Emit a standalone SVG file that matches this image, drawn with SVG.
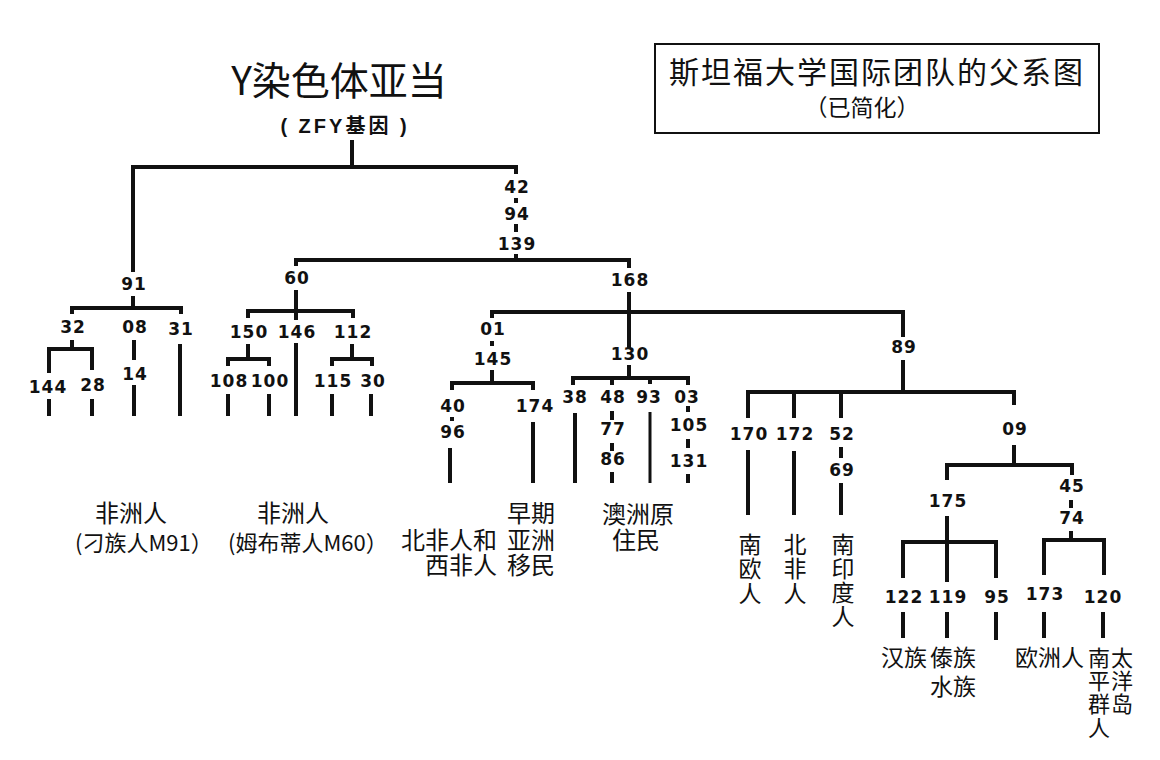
<svg xmlns="http://www.w3.org/2000/svg" width="1160" height="760" viewBox="0 0 1160 760">
<style>
.n{font-family:"DejaVu Sans",Verdana,sans-serif;font-weight:bold;font-size:17px;letter-spacing:1px;text-anchor:middle;fill:#111}
.c{font-family:"Noto Sans CJK SC","Noto Sans",sans-serif;font-size:24px;fill:#111}
.v{font-size:23px}
.s{font-size:22px}
.m{text-anchor:middle}
.e{text-anchor:end}
.ln{stroke:#111;stroke-width:4;fill:none;stroke-linecap:butt}
.thin{stroke-width:3}
</style>
<rect width="1160" height="760" fill="#ffffff"/>

<g id="title">
<text x="339" y="95" class="c m" style="font-size:39px">Y染色体亚当</text>
<text x="345" y="133" style="font-family:'Liberation Sans','Noto Sans CJK SC',sans-serif;font-weight:bold;font-size:20px;letter-spacing:3px;text-anchor:middle;fill:#111">( ZFY基因 )</text>
</g>

<g id="legend">
<rect x="655" y="44" width="444" height="89" fill="none" stroke="#111" stroke-width="2"/>
<text class="c m"><tspan x="877" y="83" style="font-size:30px;letter-spacing:2px">斯坦福大学国际团队的父系图</tspan><tspan x="862" y="116" style="font-size:23px">（已简化）</tspan></text>
</g>

<g id="connectors" class="ln">
<path class="ln" d="M352,140V167 M131,167H518 M133,167V272 M516,167V174 M516,198V203 M516,224V232 M516,254V260 M294,260H631 M296,260V266 M629,260V268"/>
<path class="ln" d="M133,296V308 M70,308H183 M72,308V314 M181,308V314 M72,340V349 M47,349H94 M49,349V373 M92,349V370 M49,399V416 M92,399V416 M134,340V360 M134,385V416 M180,344V416"/>
<path class="ln" d="M296,290V320 M246,311H355 M248,311V318 M353,311V318 M296,343V416 M248,344V359 M226,359H271 M228,359V366 M269,359V366 M228,394V416 M269,394V416 M352,344V359 M330,359H374 M332,359V366 M372,359V366 M332,394V416 M371,394V416"/>
<path class="ln" d="M629,292V349 M490,312H905 M492,312V318 M492,341V346 M492,370V383 M450,383H535 M452,383V390 M533,383V390 M452,417V421 M450,448V483 M533,422V483"/>
<path class="ln" d="M629,365V378 M571,378H690 M573,378V385 M612,378V385 M650,378V384 M688,378V385 M575,413V483 M612,411V420 M612,443V451 M612,472V483 M688,406V412 M688,439V448 M688,474V483"/>
<path class="ln thin" d="M650,412V483"/>
<path class="ln" d="M903,312V337 M903,360V392 M746,392H1016 M748,392V418 M794,392V418 M841,392V418 M1014,392V405 M748,450V515 M794,451V515 M841,447V458 M841,483V515"/>
<path class="ln" d="M1014,445V465 M945,465H1074 M947,465V480 M1072,465V475 M1071,500V508 M1071,531V540 M1042,540H1106 M1044,540V575 M1104,540V575 M947,516V582 M901,542H998 M903,542V578 M996,542V578 M903,612V638 M947,612V638 M996,612V640 M1044,612V638 M1103,612V638"/>
</g>

<g id="m42"><text x="517" y="193" class="n">42</text></g>
<g id="m94"><text x="517" y="220" class="n">94</text></g>
<g id="m139"><text x="517" y="250" class="n">139</text></g>
<g id="m91"><text x="134" y="290" class="n">91</text></g>
<g id="m60"><text x="297" y="284" class="n">60</text></g>
<g id="m168"><text x="630" y="286" class="n">168</text></g>
<g id="m32"><text x="73" y="333" class="n">32</text></g>
<g id="m08"><text x="135" y="333" class="n">08</text></g>
<g id="m31"><text x="181" y="335" class="n">31</text></g>
<g id="m144"><text x="48" y="393" class="n">144</text></g>
<g id="m28"><text x="93" y="391" class="n">28</text></g>
<g id="m14"><text x="135" y="380" class="n">14</text></g>
<g id="m150"><text x="249" y="338" class="n">150</text></g>
<g id="m146"><text x="297" y="338" class="n">146</text></g>
<g id="m112"><text x="353" y="338" class="n">112</text></g>
<g id="m108"><text x="229" y="387" class="n">108</text></g>
<g id="m100"><text x="270" y="387" class="n">100</text></g>
<g id="m115"><text x="333" y="387" class="n">115</text></g>
<g id="m30"><text x="373" y="387" class="n">30</text></g>
<g id="m01"><text x="493" y="335" class="n">01</text></g>
<g id="m145"><text x="493" y="365" class="n">145</text></g>
<g id="m40"><text x="453" y="412" class="n">40</text></g>
<g id="m96"><text x="453" y="438" class="n">96</text></g>
<g id="m174"><text x="535" y="412" class="n">174</text></g>
<g id="m130"><text x="630" y="360" class="n">130</text></g>
<g id="m38"><text x="575" y="403" class="n">38</text></g>
<g id="m48"><text x="613" y="403" class="n">48</text></g>
<g id="m93"><text x="649" y="403" class="n">93</text></g>
<g id="m03"><text x="687" y="403" class="n">03</text></g>
<g id="m77"><text x="613" y="435" class="n">77</text></g>
<g id="m86"><text x="613" y="465" class="n">86</text></g>
<g id="m105"><text x="689" y="431" class="n">105</text></g>
<g id="m131"><text x="689" y="467" class="n">131</text></g>
<g id="m89"><text x="904" y="353" class="n">89</text></g>
<g id="m170"><text x="749" y="440" class="n">170</text></g>
<g id="m172"><text x="795" y="440" class="n">172</text></g>
<g id="m52"><text x="842" y="440" class="n">52</text></g>
<g id="m69"><text x="842" y="476" class="n">69</text></g>
<g id="m09"><text x="1015" y="435" class="n">09</text></g>
<g id="m175"><text x="948" y="507" class="n">175</text></g>
<g id="m45"><text x="1072" y="492" class="n">45</text></g>
<g id="m74"><text x="1072" y="524" class="n">74</text></g>
<g id="m122"><text x="904" y="603" class="n">122</text></g>
<g id="m119"><text x="948" y="603" class="n">119</text></g>
<g id="m95"><text x="997" y="603" class="n">95</text></g>
<g id="m173"><text x="1045" y="600" class="n">173</text></g>
<g id="m120"><text x="1103" y="603" class="n">120</text></g>

<g id="p-africa91">
<text class="c"><tspan x="131" y="522" class="m">非洲人</tspan><tspan x="75" y="551" class="s">(刁族人M91）</tspan></text>
</g>
<g id="p-africa60">
<text class="c"><tspan x="293" y="522" class="m">非洲人</tspan><tspan x="228" y="551" class="s">(姆布蒂人M60）</tspan></text>
</g>
<g id="p-nwafrica">
<text class="c e"><tspan x="497" y="549">北非人和</tspan><tspan x="497" y="574">西非人</tspan></text>
</g>
<g id="p-earlyasia">
<text class="c"><tspan x="507" y="522">早期</tspan><tspan x="507" y="549">亚洲</tspan><tspan x="507" y="574">移民</tspan></text>
</g>
<g id="p-aus">
<text class="c m"><tspan x="638" y="523">澳洲原</tspan><tspan x="636" y="549">住民</tspan></text>
</g>
<g id="p-seuro">
<text class="c v m"><tspan x="750" y="553">南</tspan><tspan x="750" y="577">欧</tspan><tspan x="750" y="602">人</tspan></text>
</g>
<g id="p-nafrica">
<text class="c v m"><tspan x="795" y="553">北</tspan><tspan x="795" y="577">非</tspan><tspan x="795" y="602">人</tspan></text>
</g>
<g id="p-sindia">
<text class="c v m"><tspan x="843" y="553">南</tspan><tspan x="843" y="577">印</tspan><tspan x="843" y="601">度</tspan><tspan x="843" y="625">人</tspan></text>
</g>
<g id="p-han"><text x="881" y="666" class="c v">汉族</text></g>
<g id="p-dai">
<text class="c v"><tspan x="930" y="666">傣族</tspan><tspan x="930" y="695">水族</tspan></text>
</g>
<g id="p-euro"><text x="1015" y="666" class="c v">欧洲人</text></g>
<g id="p-pacific">
<text class="c s" style="letter-spacing:1px"><tspan x="1088" y="666">南太</tspan><tspan x="1088" y="689">平洋</tspan><tspan x="1088" y="712">群岛</tspan><tspan x="1088" y="736">人</tspan></text>
</g>
</svg>
